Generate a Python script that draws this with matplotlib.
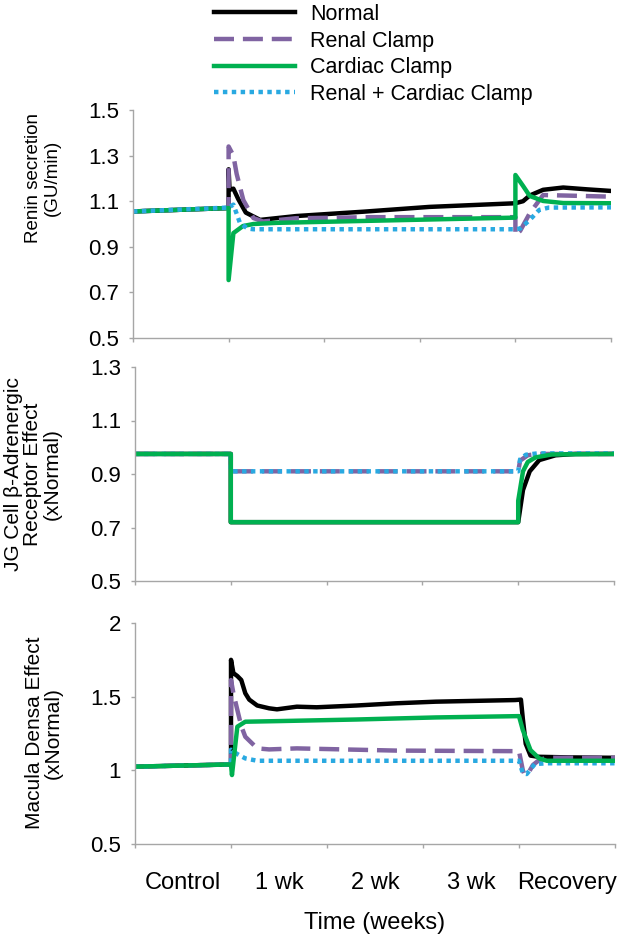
import matplotlib
matplotlib.use('Agg')
import numpy as np
import matplotlib.pyplot as plt
import matplotlib.ticker as plc

plt.rcParams['font.family'] = ['Liberation Sans', 'DejaVu Sans']

#SERIES NAMES AND STYLES
nomes = ['Normal', 'Renal Clamp', 'Cardiac Clamp', 'Renal + Cardiac Clamp']
cores = ['#000000', '#8064A2', '#00B050', '#29A9E1']
categorias = ['Control', '1 wk', '2 wk', '3 wk', 'Recovery']

#RENIN SECRETION (GU/min)
renina_normal_x = [0, 1.0, 1.0, 1.01, 1.05, 1.1, 1.18, 1.33, 1.71, 2.41, 3.1, 4.0, 4.08, 4.15, 4.29, 4.5, 4.75, 5.0]
renina_normal_y = [1.055, 1.07, 1.24, 1.15, 1.155, 1.11, 1.05, 1.018, 1.035, 1.054, 1.075, 1.091, 1.10, 1.125, 1.15, 1.16, 1.152, 1.145]
renina_renal_x = [0, 1.0, 1.0, 1.05, 1.084, 1.154, 1.26, 1.36, 1.7, 2.5, 4.0, 4.0, 4.05, 4.15, 4.29, 4.5, 5.0]
renina_renal_y = [1.055, 1.07, 1.34, 1.30, 1.22, 1.105, 1.026, 1.011, 1.025, 1.03, 1.03, 0.95, 0.97, 1.047, 1.127, 1.125, 1.12]
renina_card_x = [0, 1.0, 1.0, 1.05, 1.15, 1.26, 1.5, 4.0, 4.0, 4.08, 4.15, 4.29, 4.5, 5.0]
renina_card_y = [1.055, 1.07, 0.754, 0.96, 0.991, 1.0, 1.005, 1.028, 1.215, 1.167, 1.123, 1.101, 1.092, 1.091]
renina_ambos_x = [0, 1.0, 1.05, 1.12, 1.2, 1.26, 4.0, 4.05, 4.15, 4.25, 4.35, 5.0]
renina_ambos_y = [1.055, 1.072, 1.085, 1.003, 0.98, 0.977, 0.977, 0.98, 1.018, 1.062, 1.072, 1.073]

#JG CELL BETA-ADRENERGIC RECEPTOR EFFECT
beta_normal_x = [0, 1, 1, 4, 4.05, 4.12, 4.22, 4.39, 4.6, 5]
beta_normal_y = [0.975, 0.975, 0.72, 0.72, 0.84, 0.91, 0.952, 0.97, 0.975, 0.975]
beta_renal_x = [0, 1, 1, 4, 4.02, 4.1, 4.2, 5]
beta_renal_y = [0.975, 0.975, 0.91, 0.91, 0.95, 0.97, 0.975, 0.975]
beta_card_x = [0, 1, 1, 4, 4.0, 4.05, 4.1, 4.18, 4.35, 5]
beta_card_y = [0.975, 0.975, 0.72, 0.72, 0.80, 0.91, 0.945, 0.962, 0.973, 0.975]
beta_ambos_x = [0, 1, 1, 4, 4.02, 4.08, 4.2, 5]
beta_ambos_y = [0.975, 0.975, 0.91, 0.91, 0.955, 0.972, 0.977, 0.977]

#MACULA DENSA EFFECT
macula_normal_x = [0, 1.0, 1.0, 1.025, 1.066, 1.107, 1.149, 1.19, 1.273, 1.397, 1.479, 1.686, 1.893, 2.306, 2.719, 3.132, 3.959, 4.02, 4.04, 4.07, 4.12, 4.2, 4.5, 5.0]
macula_normal_y = [1.025, 1.04, 1.75, 1.66, 1.64, 1.613, 1.523, 1.48, 1.44, 1.421, 1.414, 1.432, 1.428, 1.44, 1.455, 1.466, 1.477, 1.48, 1.35, 1.18, 1.10, 1.092, 1.088, 1.085]
macula_renal_x = [0, 1.0, 1.0, 1.025, 1.066, 1.107, 1.149, 1.273, 1.397, 1.686, 2.719, 4.0, 4.04, 4.06, 4.1, 4.145, 4.21, 4.29, 5.0]
macula_renal_y = [1.025, 1.04, 1.613, 1.523, 1.41, 1.30, 1.228, 1.149, 1.142, 1.149, 1.134, 1.13, 1.0, 0.968, 0.985, 1.036, 1.07, 1.085, 1.085]
macula_card_x = [0, 1.0, 1.01, 1.066, 1.149, 1.479, 2.306, 3.132, 4.0, 4.04, 4.12, 4.21, 4.29, 5.0]
macula_card_y = [1.025, 1.04, 0.968, 1.296, 1.33, 1.334, 1.345, 1.359, 1.368, 1.273, 1.137, 1.081, 1.065, 1.065]
macula_ambos_x = [0, 1.0, 1.0, 1.066, 1.149, 1.273, 4.0, 4.04, 4.08, 4.165, 4.3, 5.0]
macula_ambos_y = [1.025, 1.04, 1.14, 1.11, 1.081, 1.065, 1.065, 0.98, 0.975, 1.043, 1.048, 1.048]

#AXIS TICKS
ticks_renina = [0.5, 0.7, 0.9, 1.1, 1.3, 1.5]
ticks_beta = [0.5, 0.7, 0.9, 1.1, 1.3]
ticks_macula = [0.5, 1, 1.5, 2]

#FIGURE
fig = plt.figure(figsize=(6.22, 9.36), dpi=100)
W, H = 622.0, 936.0

def eixo(x0, x1, y0, y1):
    return fig.add_axes([x0 / W, 1 - y1 / H, (x1 - x0) / W, (y1 - y0) / H])

ax1 = eixo(133, 611, 110, 338)
ax2 = eixo(135, 614, 367, 581)
ax3 = eixo(135, 615, 623, 844)

def desenha(ax, series, ordem):
    linhas = {}
    for i in ordem:
        x, y = series[i]
        if i == 1:
            l, = ax.plot(x, y, color=cores[i], lw=3.2, label=nomes[i], dashes=(4.5, 2), dash_capstyle='butt')
        elif i == 3:
            l, = ax.plot(x, y, color=cores[i], lw=3.2, label=nomes[i], dashes=(1, 1), dash_capstyle='butt')
        else:
            l, = ax.plot(x, y, color=cores[i], lw=3.2, label=nomes[i], solid_joinstyle='round')
        linhas[i] = l
    return [linhas[i] for i in range(4)]

h = desenha(ax1, [(renina_normal_x, renina_normal_y), (renina_renal_x, renina_renal_y),
                  (renina_card_x, renina_card_y), (renina_ambos_x, renina_ambos_y)], [0, 1, 2, 3])
desenha(ax2, [(beta_normal_x, beta_normal_y), (beta_renal_x, beta_renal_y),
              (beta_card_x, beta_card_y), (beta_ambos_x, beta_ambos_y)], [0, 1, 3, 2])
desenha(ax3, [(macula_normal_x, macula_normal_y), (macula_renal_x, macula_renal_y),
              (macula_card_x, macula_card_y), (macula_ambos_x, macula_ambos_y)], [0, 1, 3, 2])

for ax, ticks in zip([ax1, ax2, ax3], [ticks_renina, ticks_beta, ticks_macula]):
    ax.set_xlim(0, 5)
    ax.set_ylim(ticks[0], ticks[-1])
    ax.yaxis.set_major_locator(plc.FixedLocator(ticks))
    ax.yaxis.set_major_formatter(plc.FixedFormatter(['%g' % t for t in ticks]))
    ax.xaxis.set_major_locator(plc.MultipleLocator(1))
    ax.xaxis.set_major_formatter(plc.NullFormatter())
    for s in ['top', 'right']:
        ax.spines[s].set_visible(False)
    for s in ['left', 'bottom']:
        ax.spines[s].set_color('#A6A6A6')
        ax.spines[s].set_linewidth(1)
    ax.tick_params(axis='both', which='major', direction='out', length=3, width=1,
                   color='#A6A6A6', labelsize=16, labelcolor='black')
    ax.tick_params(axis='y', pad=7)

#CATEGORY LABELS ON THE BOTTOM PANEL
ax3.xaxis.set_minor_locator(plc.FixedLocator(np.arange(5) + 0.5))
ax3.xaxis.set_minor_formatter(plc.FixedFormatter(categorias))
ax3.tick_params(axis='x', which='minor', length=0, labelsize=17, pad=20)
ax3.set_xlabel('Time (weeks)', fontsize=17, labelpad=13)

#Y AXIS TITLES
fig.text(43 / W, 1 - 178 / H, 'Renin secretion\n(GU/min)', rotation=90, ha='center', va='center',
         fontsize=13.5, multialignment='center', linespacing=1.12)
fig.text(33 / W, 1 - 474 / H, 'JG Cell β-Adrenergic\nReceptor Effect\n(xNormal)', rotation=90,
         ha='center', va='center', fontsize=15, multialignment='center', linespacing=1.0)
fig.text(44 / W, 1 - 733 / H, 'Macula Densa Effect\n(xNormal)', rotation=90, ha='center', va='center',
         fontsize=15, multialignment='center', linespacing=1.0)

#LEGEND
fig.legend(handles=h, labels=nomes, loc='upper left', bbox_to_anchor=(214 / W, 1 - 4 / H),
           frameon=False, fontsize=15.5, handlelength=3.75, handletextpad=0.72,
           labelspacing=0.26, borderpad=0, borderaxespad=0)

fig.savefig('out.png', dpi=100)
